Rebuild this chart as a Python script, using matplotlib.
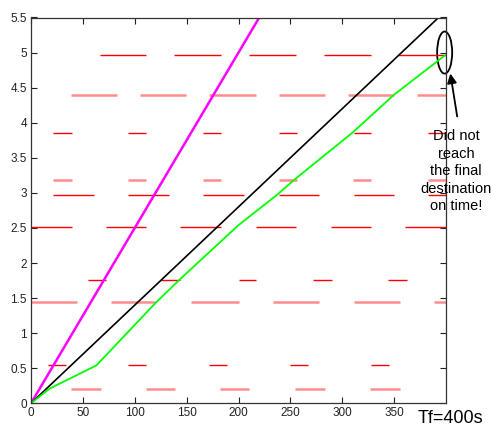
import numpy as np
import matplotlib
matplotlib.use("Agg")
import matplotlib.pyplot as plt
from matplotlib.patches import Ellipse

plt.rcParams['font.family'] = ['Liberation Sans', 'DejaVu Sans']

# position of each traffic light (y) and whether it is drawn red or pink
light_y    = [0.21, 0.54, 1.44, 1.76, 2.52, 2.97, 3.19, 3.86, 4.40, 4.96]
light_kind = ['pink', 'red', 'pink', 'red', 'red', 'red', 'pink', 'red', 'pink', 'red']

# red phases (start, end) for every light, in seconds
light_start = [
    [38.6, 111.1, 182.6, 254.0, 326.5],
    [16.4, 93.7, 172.0, 249.2, 327.5],
    [0.0, 77.3, 154.6, 232.8, 311.1, 388.3],
    [55.1, 125.6, 200.0, 271.4, 343.9],
    [0.0, 72.4, 143.9, 216.4, 288.8, 360.3],
    [21.3, 93.7, 166.2, 238.6, 311.1, 382.5],
    [21.3, 93.7, 166.2, 238.6, 310.5, 382.5],
    [21.3, 93.7, 166.2, 238.6, 311.1, 382.5],
    [38.6, 105.3, 171.9, 238.6, 305.3, 371.9],
    [66.7, 138.1, 210.6, 282.1, 353.6],
]
light_end = [
    [67.6, 139.1, 210.6, 283.0, 355.5],
    [33.8, 111.1, 189.3, 266.6, 344.9],
    [44.4, 119.8, 200.0, 277.2, 355.5, 400.0],
    [72.4, 143.9, 216.4, 289.8, 362.2],
    [39.6, 111.1, 183.5, 255.0, 327.5, 400.0],
    [60.8, 133.3, 205.7, 277.2, 349.7, 400.0],
    [39.6, 111.1, 183.5, 256.0, 327.5, 400.0],
    [39.6, 111.1, 183.5, 256.0, 327.5, 400.0],
    [83.1, 149.7, 216.4, 283.0, 349.7, 400.0],
    [111.1, 183.5, 255.0, 327.5, 400.0],
]

# trajectories
fast_t = [0, 220]
fast_x = [0, 5.5]
ref_t = [0, 400]
ref_x = [0, 5.6]
veh_t = [0, 18, 63, 120, 143, 200, 237, 254, 310, 350, 399]
veh_x = [0, 0.21, 0.54, 1.43, 1.76, 2.54, 2.97, 3.19, 3.86, 4.40, 4.96]

colores = {'red': '#ff0000', 'pink': '#ff8c8c'}
grosor = {'red': 1.0, 'pink': 1.8}

fig = plt.figure(figsize=(4.92, 4.26), dpi=100)
ax = fig.add_axes([31/492, 1-403.3/426, (446-31)/492, (403.3-17.5)/426])

for y, kind, s, e in zip(light_y, light_kind, light_start, light_end):
    ax.hlines([y]*len(s), s, e, colors=colores[kind], linewidth=grosor[kind])

ax.plot(fast_t, fast_x, color='#ff00ff', linewidth=1.8)
ax.plot(ref_t, ref_x, color='black', linewidth=1.2)
ax.plot(veh_t, veh_x, color='#00ff00', linewidth=1.3)

ax.set_xlim(0, 400)
ax.set_ylim(0, 5.5)
ax.set_xticks(np.arange(0, 351, 50))
ax.set_yticks(np.arange(0, 5.51, 0.5))
ax.set_yticklabels(['0', '0.5', '1', '1.5', '2', '2.5', '3', '3.5', '4', '4.5', '5', '5.5'])
ax.tick_params(direction='in', top=True, right=True, length=4, width=0.8,
               labelsize=8.5, colors='#222222', pad=3)
for sp in ax.spines.values():
    sp.set_linewidth(0.9)
    sp.set_color('#333333')

# nota: no llego a tiempo
elip = Ellipse((398.7, 5.0), 14.5, 0.6, fill=False, edgecolor='black',
               linewidth=1.3, clip_on=False)
ax.add_patch(elip)
ax.annotate('', xy=(403.8, 4.74), xytext=(411.2, 4.05), annotation_clip=False,
            arrowprops=dict(arrowstyle='-|>', color='black', lw=1.3,
                            mutation_scale=14))
fig.text(456/492, 1-129/426, 'Did not\nreach\nthe final\ndestination\non time!',
         ha='center', va='top', fontsize=10.5, linespacing=1.32)
fig.text(418/492, 1-423/426, 'Tf=400s', ha='left', va='baseline', fontsize=13)

fig.savefig('out.png', dpi=100)
